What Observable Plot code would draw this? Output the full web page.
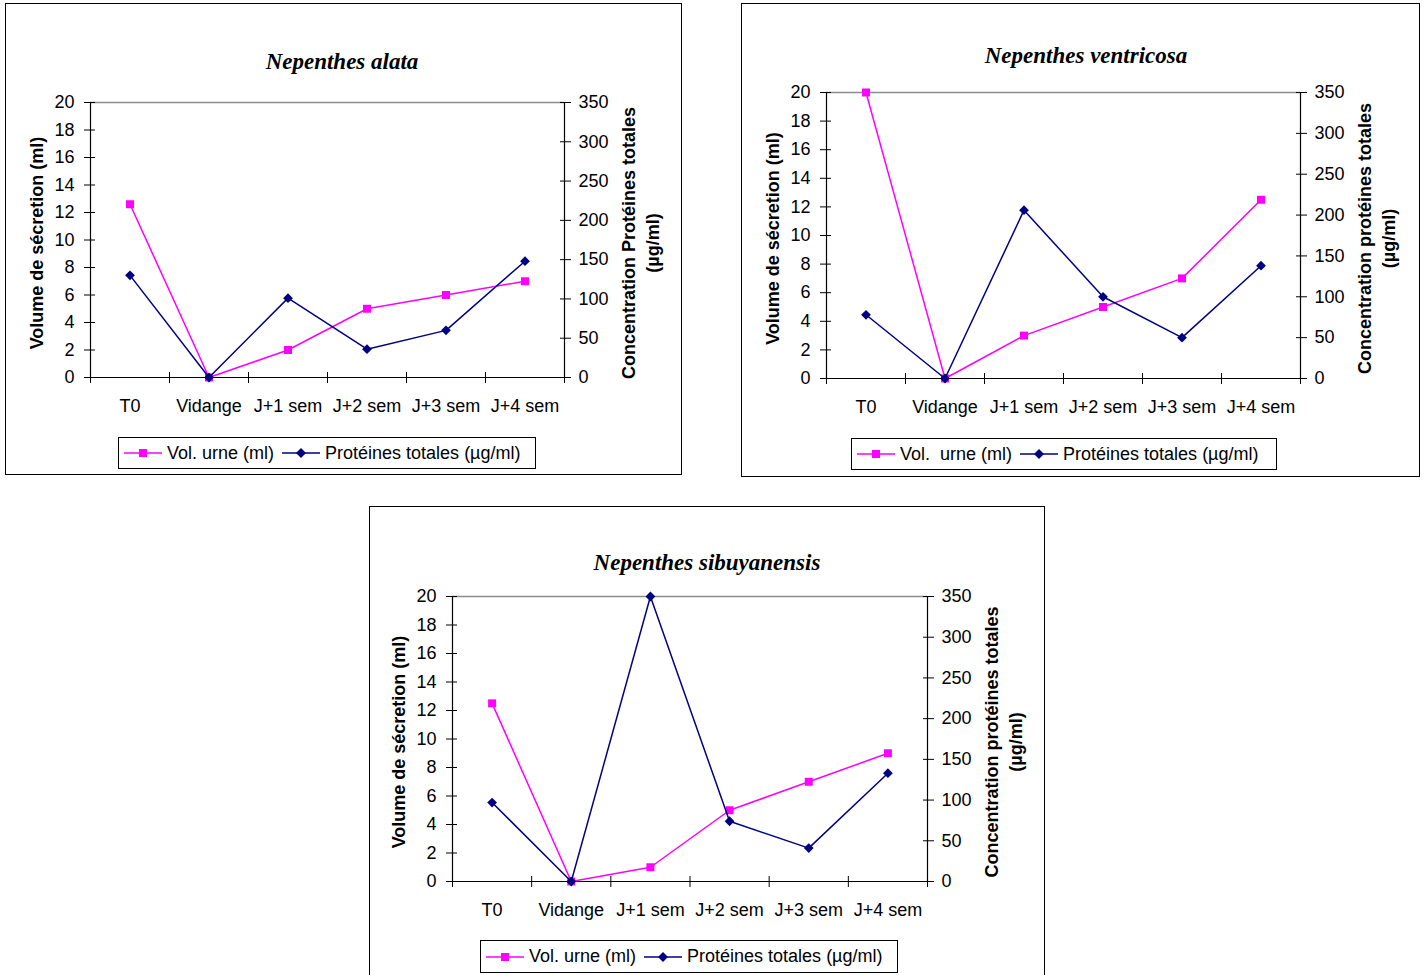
<!DOCTYPE html>
<html><head><meta charset="utf-8">
<script src="https://cdn.jsdelivr.net/npm/d3@7"></script>
<script src="https://cdn.jsdelivr.net/npm/@observablehq/plot@0.6"></script>
<style>
body{margin:0;background:#fff;width:1427px;height:975px;overflow:hidden;position:relative;font-family:"Liberation Sans",Arial,sans-serif;color:#000;}
.box{position:absolute;border:1px solid #000;box-sizing:border-box;}
.title{position:absolute;font-family:"Liberation Serif","Times New Roman",serif;font-weight:bold;font-style:italic;font-size:23px;white-space:nowrap;transform:translate(-50%,-50%);line-height:1;}
.plot{position:absolute;}
.legend{position:absolute;border:1px solid #000;box-sizing:border-box;display:flex;align-items:center;font-size:18px;white-space:pre;padding-left:5px;}
.legend svg{display:block;}
</style></head><body>
<script>
const categories = ["T0", "Vidange", "J+1 sem", "J+2 sem", "J+3 sem", "J+4 sem"];
const volAlata = [12.6, 0, 2, 5, 6, 7];
const protAlata = [130, 0, 101, 36, 60, 148];
const volVentricosa = [20, 0, 3, 5, 7, 12.5];
const protVentricosa = [78, 0, 206, 100, 50, 138];
const volSibuyanensis = [12.5, 0, 1, 5, 7, 9];
const protSibuyanensis = [97, 0, 350, 74, 41, 133];
const volTicks = [0, 2, 4, 6, 8, 10, 12, 14, 16, 18, 20];
const protTicks = [0, 50, 100, 150, 200, 250, 300, 350];
const titles = ["Nepenthes alata", "Nepenthes ventricosa", "Nepenthes sibuyanensis"];
const leftLabel = "Volume de sécretion (ml)";
const rightLabels = ["Concentration Protéines totales\n(µg/ml)", "Concentration protéines totales\n(µg/ml)", "Concentration protéines totales\n(µg/ml)"];
const volNames = ["Vol. urne (ml)", "Vol.  urne (ml)", "Vol. urne (ml)"];
const protName = "Protéines totales (µg/ml)";

const PINK = "#ff00ff", NAVY = "#000080";
const FS = 18;
const layouts = [
  {box:{x:5,y:3,w:677,h:472}, plot:{left:90,right:564,top:102,bottom:377}, title:[342,61], legend:{x:118,y:437,w:418,h:32}},
  {box:{x:741,y:3,w:679,h:474}, plot:{left:826,right:1300,top:92,bottom:378}, title:[1086,55], legend:{x:851,y:438,w:426,h:32}},
  {box:{x:369,y:506,w:676,h:480}, plot:{left:452,right:927,top:596,bottom:881}, title:[707,562], legend:{x:480,y:940,w:418,h:33}}
];
const vols = [volAlata, volVentricosa, volSibuyanensis];
const prots = [protAlata, protVentricosa, protSibuyanensis];
const k = 20 / 350;

layouts.forEach((L, p) => {
  const box = document.createElement("div");
  box.className = "box";
  Object.assign(box.style, {left: L.box.x + "px", top: L.box.y + "px", width: L.box.w + "px", height: L.box.h + "px"});
  document.body.appendChild(box);

  const t = document.createElement("div");
  t.className = "title";
  t.textContent = titles[p];
  t.style.left = L.title[0] + "px"; t.style.top = L.title[1] + "px";
  document.body.appendChild(t);

  const sx = L.box.x + 1, sy = L.box.y + 1;
  const width = L.box.w - 2, height = L.legend.y - sy - 4;
  const data = categories.map((c, i) => ({cat: c, i, vol: vols[p][i], prot: prots[p][i]}));
  const xc = d => d.i + 0.5;
  const chart = Plot.plot({
    width, height,
    marginLeft: L.plot.left - sx,
    marginRight: sx + width - L.plot.right,
    marginTop: L.plot.top - sy,
    marginBottom: sy + height - L.plot.bottom,
    x: {type: "linear", domain: [0, categories.length]},
    y: {type: "linear", domain: [0, 20]},
    style: {fontFamily: '"Liberation Sans", Arial, sans-serif', fontSize: FS + "px", color: "#000", background: "transparent", overflow: "visible"},
    marks: [
      Plot.ruleY([20], {stroke: "#8c8c8c", strokeWidth: 1.3}),
      Plot.ruleX([0, categories.length], {stroke: "#000", strokeWidth: 1.2}),
      Plot.ruleY([0], {stroke: "#000", strokeWidth: 1.2}),
      Plot.axisY(volTicks, {anchor: "left", tickSize: 11, dx: 5, tickPadding: 10, label: null, tickFormat: d => String(d)}),
      Plot.axisY(protTicks.map(v => v * k), {anchor: "right", tickSize: 11, dx: -5, tickPadding: 8, label: null, tickFormat: v => String(Math.round(v / k))}),
      Plot.axisX(d3.range(categories.length + 1), {anchor: "bottom", tickSize: 11, dy: -5, tickFormat: () => "", label: null}),
      Plot.axisX(categories.map((c, i) => i + 0.5), {anchor: "bottom", tickSize: 0, tickPadding: 22, label: null, tickFormat: v => categories[Math.floor(v)]}),
      Plot.text([leftLabel], {frameAnchor: "left", textAnchor: "middle", dx: -53, dy: 3, rotate: -90, fontWeight: "bold", fontSize: FS}),
      Plot.text([rightLabels[p]], {frameAnchor: "right", textAnchor: "middle", dx: 75, dy: 3, rotate: -90, fontWeight: "bold", fontSize: FS, lineHeight: 1.3}),
      Plot.line(data, {x: xc, y: "vol", stroke: PINK, strokeWidth: 1.5}),
      Plot.dot(data, {x: xc, y: "vol", symbol: "square", r: 4.5, fill: PINK, stroke: "none"}),
      Plot.line(data, {x: xc, y: d => d.prot * k, stroke: NAVY, strokeWidth: 1.5}),
      Plot.dot(data, {x: xc, y: d => d.prot * k, symbol: "diamond2", r: 4.4, fill: NAVY, stroke: "none"})
    ]
  });
  chart.classList.add("plot");
  chart.style.left = sx + "px"; chart.style.top = sy + "px";
  document.body.appendChild(chart);

  const lg = document.createElement("div");
  lg.className = "legend";
  Object.assign(lg.style, {left: L.legend.x + "px", top: L.legend.y + "px", width: L.legend.w + "px", height: L.legend.h + "px"});
  const glyph = (color, shape) => {
    const m = shape === "square"
      ? `<rect x="15" y="6" width="8" height="8" fill="${color}"/>`
      : `<path d="M19,5 L24,10 L19,15 L14,10 Z" fill="${color}"/>`;
    return `<svg width="38" height="20"><line x1="0" y1="10" x2="38" y2="10" stroke="${color}" stroke-width="1.5"/>${m}</svg>`;
  };
  lg.innerHTML = `${glyph(PINK, "square")}<span style="margin-left:5px">${volNames[p]}</span>` +
    `<span style="margin-left:8px"></span>${glyph(NAVY, "diamond")}<span style="margin-left:5px">${protName}</span>`;
  document.body.appendChild(lg);
});
</script>
</body></html>
